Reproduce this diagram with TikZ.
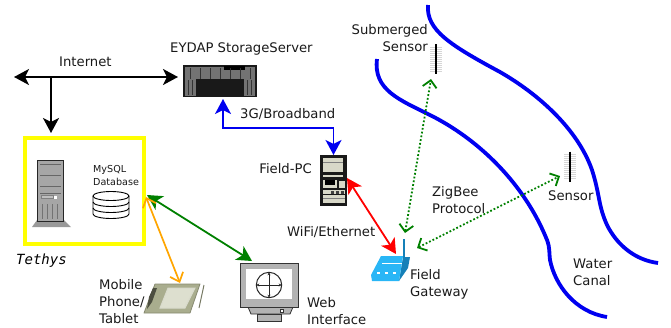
\documentclass[tikz,border=0pt]{standalone}
\usepackage{fontspec}
\setmainfont{DejaVu Sans}
\setmonofont{DejaVu Sans Mono}
\usetikzlibrary{calc,arrows.meta}
\definecolor{canalblue}{HTML}{0000F0}
\definecolor{linkgreen}{HTML}{008000}
\definecolor{framey}{HTML}{FFFF00}
\definecolor{linkorange}{HTML}{FFA500}
\definecolor{tabletc}{HTML}{A9AD8E}
\definecolor{screenc}{HTML}{DDDFCF}
\definecolor{monc}{HTML}{B3B3B3}
\definecolor{gwlight}{HTML}{29B6F6}
\definecolor{gwdark}{HTML}{1580B8}
\definecolor{pcbeige}{HTML}{D8D8C8}
\tikzset{
  lab/.style={text=black!90, font=\fontsize{13.2}{17}\selectfont, inner sep=0pt, align=left},
  labs/.style={text=black!90, font=\fontsize{9.6}{12.5}\selectfont, inner sep=0pt, align=left},
  box/.style={minimum width=#1, inner sep=0pt, outer sep=0pt},
  heavy/.style={line width=1.8pt, -{Stealth[length=15pt,width=16pt,inset=4pt]}},
  both/.style={line width=1.8pt, {Stealth[length=15pt,width=16pt,inset=4pt]}-{Stealth[length=15pt,width=16pt,inset=4pt]}},
  bar/.style={line width=1.7pt, {Straight Barb[length=8pt,width=14pt]}-{Straight Barb[length=8pt,width=14pt]}},
  zigbee/.style={linkgreen, line width=1.8pt, dash pattern=on 1.8pt off 2pt, {Straight Barb[length=7pt,width=14pt]}-{Straight Barb[length=7pt,width=14pt]}},
  canal/.style={draw=canalblue, line width=3.8pt},
  ticks/.style={draw=black!16, line width=1pt},
}
\begin{document}
\begin{tikzpicture}[x=1pt,y=-1pt]
  \useasboundingbox (0,0) rectangle (671,327);
  % water canal
  \draw[canal] (428,5) .. controls (426,30) and (450,45) .. (500,72) .. controls (540,95) and (578,130) .. (592,170) .. controls (600,195) and (598,205) .. (607,225) .. controls (617,245) and (635,260) .. (658,263);
  \draw[canal] (377,59) .. controls (373,90) and (400,100) .. (430,115) .. controls (480,140) and (525,185) .. (547,240) .. controls (550,248) and (549,252) .. (550,260) .. controls (555,285) and (575,312) .. (607,317);

  % storage server
  \node[box=74pt, minimum height=32pt, fill=black!90] (server) at (220,81) {};
  \fill[black!55] (185,67) rectangle (255,79);
  \fill[black!55] (185,79) rectangle (196,96);
  \fill[black!55] (244,79) rectangle (255,96);
  \fill[black] (224,66) rectangle (245,70);
  \foreach \x in {190,200,210,220,230,240,250} \draw[black!80, line width=0.6pt] (\x,68) -- (\x,79);
  \foreach \x in {188,192,247,251} \draw[black!80, line width=0.6pt] (\x,80) -- (\x,95);

  % tethys box
  \node[box=119.5pt, minimum height=106pt, draw=framey, line width=4pt] (tethys) at (84.7,191) {};
  % tower
  \fill[black!40] (37,220) -- (64,220) -- (71,227) -- (32,227) -- cycle;
  \node[box=26pt, minimum height=61pt, draw=black!85, line width=1.6pt, fill=black!35] (tower) at (50.5,191) {};
  \foreach \y in {164,175,186,193} \draw[black!60, line width=0.7pt] (40,\y) -- (61,\y);
  \draw[black!50, fill=black!25, line width=0.5pt] (41,195) rectangle (53,198);
  \fill[white] (54,196) rectangle (57,198.5);
  \foreach \x in {42,47,52,57} \draw[black!55, line width=0.6pt] (\x,204) -- (\x,219);
  % database
  \draw[black, line width=0.9pt, fill=white] (93,196) -- (93,214) arc[start angle=180,end angle=360,x radius=18,y radius=-4.5] -- (129,196);
  \foreach \y in {202,208} \draw[black, line width=0.9pt] (93,\y) arc[start angle=180,end angle=360,x radius=18,y radius=-4.5];
  \draw[black, line width=0.9pt, fill=white] (111,196) ellipse[x radius=18,y radius=4.5];
  \node[labs, anchor=west] (mysql) at (93,175.5) {MySQL\\Database};

  % field pc
  \node[box=27pt, minimum height=51pt, fill=black!90] (pc) at (333.5,180.5) {};
  \fill[pcbeige] (323,158) rectangle (343,172);
  \draw[black!50, line width=0.5pt] (323,162) -- (343,162);
  \fill[pcbeige] (323,175) rectangle (343,177);
  \fill[pcbeige] (323,180) rectangle (337,188);
  \fill[black] (325,180) rectangle (335,185);
  \fill[pcbeige] (339,181) rectangle (345,188);
  \fill[pcbeige] (323,190) rectangle (345,194);
  \foreach \x in {331,336,341} \fill[black!75] (\x,190.5) rectangle ++(2.5,3);
  \fill[pcbeige] (323,195) rectangle (345,203);
  \draw[black!50, line width=0.5pt] (323,198) -- (345,198);

  % tablet
  \node[box=60pt, minimum height=30pt] (tablet) at (174,298.5) {};
  \draw[tabletc!80!black, fill=tabletc, line width=0.8pt, line join=round] (155,284) -- (200,284) -- (190,313) -- (144,313) -- cycle;
  \fill[black!55!tabletc] (153,288) -- (157,288) -- (152,302) -- (147,309) -- (149,297) -- cycle;
  \draw[tabletc!45!white, fill=screenc, line width=1pt] (168,288) -- (195,288) -- (185,308) -- (160,308) -- cycle;
  \draw[tabletc!70!black, line width=1pt] (204,285) -- (199,308);

  % web interface
  \fill[monc] (248,307) -- (293,307) -- (290,314) -- (251,314) -- cycle;
  \draw[black!80, line width=0.8pt] (248,307) -- (251,314) -- (290,314) -- (293,307);
  \draw[black!80, fill=monc, line width=0.8pt] (257,314) rectangle (281,321);
  \draw[black!80, fill=white, line width=0.5pt] (280,309) rectangle (283.5,312.5);
  \node[box=58pt, minimum height=44pt, draw=black!80, fill=monc, line width=0.9pt] (monitor) at (269,285) {};
  \fill[white] (246,269) rectangle (292,299);
  \draw[black!85, line width=1pt] (269,285) circle (12.7);
  \draw[black!85, line width=0.7pt, {Stealth[length=3pt,width=3pt]}-{Stealth[length=3pt,width=3pt]}] (256.3,285) -- (281.7,285);
  \draw[black!85, line width=0.7pt, {Stealth[length=3pt,width=3pt]}-{Stealth[length=3pt,width=3pt]}] (269,272.3) -- (269,297.7);

  % field gateway
  \node[box=39pt, minimum height=42pt] (gateway) at (390.5,260) {};
  \draw[gwdark, line width=1.2pt] (404,239) -- (404,258);
  \fill[gwdark] (403,257) -- (410,257) -- (408,268) -- (399,281) -- cycle;
  \fill[gwlight] (381,256) -- (403,256) -- (399,281) -- (372,281) -- (371,275) -- cycle;
  \draw[white, line width=1.1pt] (382,263.5) -- (402,263.5);
  \foreach \x in {377,385,393} \draw[white, line width=1.4pt] (\x,273) -- ++(2.5,0);

  % sensors
  \node[box=12pt, minimum height=30pt] (subsensor) at (436,59) {};
  \node[box=12pt, minimum height=30pt] (sensor) at (570,166.5) {};
  \foreach \n in {subsensor,sensor} {
    \foreach \d in {-12,-10,...,12} \draw[ticks] ($(\n.center)+(-6,\d)$) -- ($(\n.center)+(6,\d)$);
    \draw[black, line width=1.4pt] (\n.north) -- (\n.south);
  }

  % internet
  \coordinate (netend) at (14,77);
  \coordinate (netjoin) at (51,77);
  \draw[heavy, black, shorten >=5pt] (netjoin) -- (server.west |- netjoin);
  \draw[heavy, black] (netjoin) -- (netend);
  \draw[heavy, black, shorten >=5pt] (netjoin) -- (netjoin |- tethys.north);

  % field links
  \coordinate (srvport) at (223,99);
  \coordinate (tethysport) at (147,195);
  \coordinate (tethysalt) at (146,197);
  \coordinate (tabletport) at (180,283);
  \coordinate (gwred) at (396,254);
  \coordinate (gwtop) at (405,233);
  \coordinate (gwside) at (417,248);
  \draw[both, canalblue] (srvport) -- ++(0,29) -| (pc.north);
  \draw[both, red] (pc.east |- 0,178) -- (gwred);
  \draw[both, linkgreen] (tethysport) -- (252,261);
  \draw[bar, linkorange] (tethysalt) -- (tabletport);
  \draw[zigbee] (gwtop) -- (431,79);
  \draw[zigbee] (gwside) -- (560,176);

  % labels
  \node[lab, anchor=west] (lblnet) at (59,62) {Internet};
  \node[lab, anchor=west] (lblsrv) at (170,49) {EYDAP StorageServer};
  \node[lab, anchor=west] (lbl3g) at (240,114) {3G/Broadband};
  \node[lab, anchor=east] (lblpc) at (312,169) {Field-PC};
  \node[lab, anchor=west] (lblwifi) at (287,232) {WiFi/Ethernet};
  \node[lab, anchor=east, align=right] (lblsub) at (428,38) {Submerged\\Sensor};
  \node[lab, anchor=west] (lblsens) at (548,196) {Sensor};
  \node[lab, anchor=west] (lblzig) at (432,200.5) {ZigBee\\Protocol};
  \node[lab, anchor=west] (lblgw) at (410,284.5) {Field\\Gateway};
  \node[lab, anchor=west] (lblcanal) at (573,272.5) {Water\\Canal};
  \node[lab, anchor=west] (lblmob) at (99,301.5) {Mobile\\Phone/\\Tablet};
  \node[lab, anchor=west] (lblweb) at (307,311.5) {Web\\Interface};
  \node[anchor=west, inner sep=0pt, font=\ttfamily\itshape\fontsize{14}{16}\selectfont] (lblteth) at (16,261) {Tethys};
\end{tikzpicture}
\end{document}
